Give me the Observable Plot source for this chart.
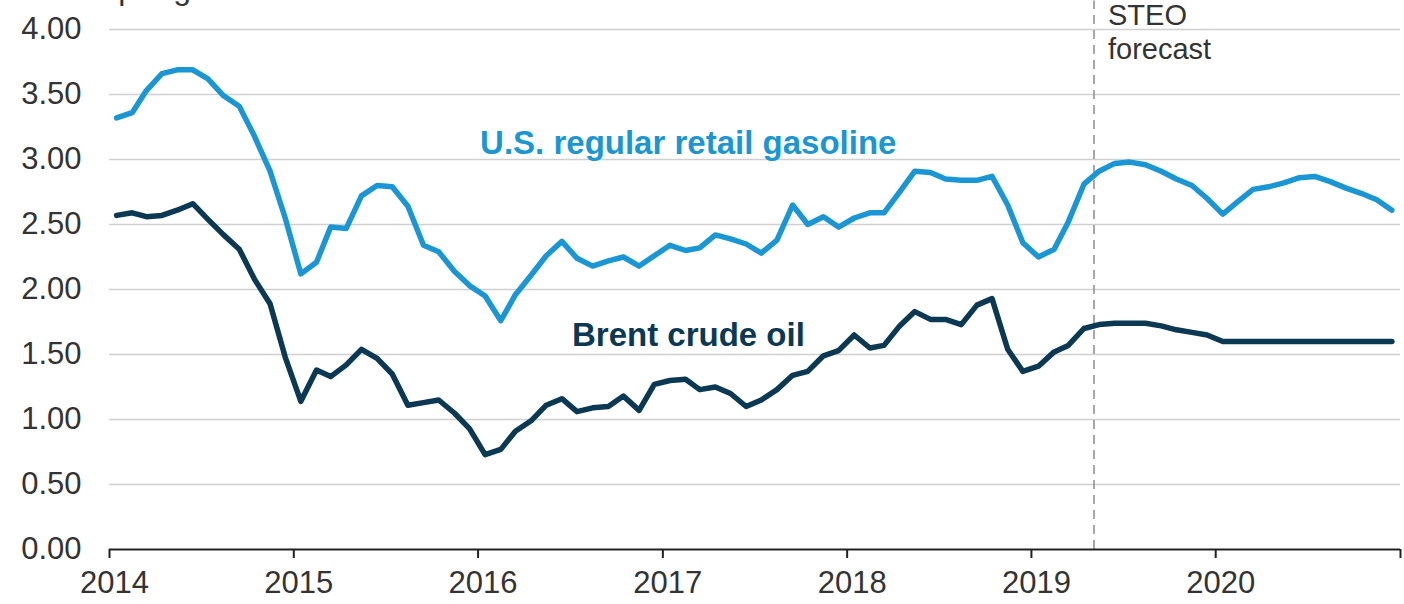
<!DOCTYPE html>
<html><head><meta charset="utf-8">
<script src="https://cdn.jsdelivr.net/npm/d3@7"></script>
<script src="https://cdn.jsdelivr.net/npm/@observablehq/plot@0.6"></script>
<style>
html,body{margin:0;padding:0;background:#fff;overflow:hidden}
#wrap{position:relative;width:1404px;height:604px;overflow:hidden}
#unit{position:absolute;left:15px;top:-28px;font:32px "Liberation Sans",Arial,sans-serif;color:#333;line-height:1;white-space:nowrap}
#chart{position:absolute;left:0;top:0}
</style></head><body>
<div id="wrap"><div id="chart"></div><div id="unit">dollars per gallon</div></div>
<script>
// monthly series, Jan 2014 – Dec 2020 (dollars per gallon)
const startYear = 2014;
const gasoline = [
  3.32, 3.36, 3.53, 3.66, 3.69, 3.69, 3.62, 3.49, 3.41, 3.18, 2.91, 2.55,
  2.12, 2.21, 2.48, 2.47, 2.72, 2.80, 2.79, 2.64, 2.34, 2.29, 2.14, 2.03,
  1.95, 1.76, 1.96, 2.11, 2.26, 2.37, 2.24, 2.18, 2.22, 2.25, 2.18, 2.26,
  2.34, 2.30, 2.32, 2.42, 2.39, 2.35, 2.28, 2.38, 2.65, 2.50, 2.56, 2.48,
  2.55, 2.59, 2.59, 2.75, 2.91, 2.90, 2.85, 2.84, 2.84, 2.87, 2.65, 2.36,
  2.25, 2.31, 2.52, 2.81, 2.91, 2.97, 2.98, 2.96, 2.91, 2.85, 2.80, 2.70,
  2.58, 2.68, 2.77, 2.79, 2.82, 2.86, 2.87, 2.83, 2.78, 2.74, 2.69, 2.61
];
const brent = [
  2.57, 2.59, 2.56, 2.57, 2.61, 2.66, 2.54, 2.42, 2.31, 2.08, 1.89, 1.48,
  1.14, 1.38, 1.33, 1.42, 1.54, 1.47, 1.35, 1.11, 1.13, 1.15, 1.05, 0.93,
  0.73, 0.77, 0.91, 0.99, 1.11, 1.16, 1.06, 1.09, 1.10, 1.18, 1.07, 1.27,
  1.30, 1.31, 1.23, 1.25, 1.20, 1.10, 1.15, 1.23, 1.34, 1.37, 1.49, 1.53,
  1.65, 1.55, 1.57, 1.72, 1.83, 1.77, 1.77, 1.73, 1.88, 1.93, 1.54, 1.37,
  1.41, 1.52, 1.57, 1.70, 1.73, 1.74, 1.74, 1.74, 1.72, 1.69, 1.67, 1.65,
  1.60, 1.60, 1.60, 1.60, 1.60, 1.60, 1.60, 1.60, 1.60, 1.60, 1.60, 1.60
];
const yTicks = [0, 0.5, 1, 1.5, 2, 2.5, 3, 3.5, 4];
const xTickYears = [2014, 2015, 2016, 2017, 2018, 2019, 2020, 2021];
const forecastStart = new Date(Date.UTC(2019, 4, 1));
const seriesNames = ["U.S. regular retail gasoline", "Brent crude oil"];
const seriesColors = ["#1a96d4", "#0b3954"];

const monthDate = i => new Date(Date.UTC(startYear, i, 15));
const gasRows = gasoline.map((v, i) => ({date: monthDate(i), value: v}));
const brentRows = brent.map((v, i) => ({date: monthDate(i), value: v}));
const xTicks = xTickYears.map(y => new Date(Date.UTC(y, 0, 1)));
const yearLabel = d => d.getUTCFullYear() === 2021 ? "" : String(d.getUTCFullYear());

const chart = Plot.plot({
  width: 1404,
  height: 604,
  marginTop: 29,
  marginBottom: 55,
  marginLeft: 109,
  marginRight: 4,
  style: {fontFamily: "'Liberation Sans', Arial, sans-serif", fontSize: "31px", color: "#333", background: "white"},
  x: {type: "utc", domain: [xTicks[0], xTicks[xTicks.length - 1]]},
  y: {domain: [0, 4]},
  marks: [
    Plot.gridY(yTicks.slice(1), {stroke: "#d0d0d0", strokeOpacity: 1, strokeWidth: 1.5}),
    Plot.axisY(yTicks, {tickSize: 0, tickPadding: 28, tickFormat: d => d.toFixed(2), fontSize: 31, fill: "#333", label: null}),
    Plot.ruleX([forecastStart], {y1: 0, y2: 4.22, stroke: "#8c8c8c", strokeWidth: 1.5, strokeDasharray: "9,6", dx: 2}),
    Plot.line(gasRows, {x: "date", y: "value", stroke: seriesColors[0], strokeWidth: 5.5, strokeLinejoin: "round", strokeLinecap: "round"}),
    Plot.line(brentRows, {x: "date", y: "value", stroke: seriesColors[1], strokeWidth: 5.5, strokeLinejoin: "round", strokeLinecap: "round"}),
    Plot.ruleY([0], {stroke: "#222", strokeWidth: 2}),
    Plot.axisX(xTicks, {tickSize: 9, stroke: "#222", strokeWidth: 2, tickFormat: () => "", label: null}),
    Plot.axisX(xTicks, {tickSize: 0, tickPadding: 21, fill: "#333", fontSize: 31, dx: 5, tickFormat: yearLabel, label: null}),
    Plot.text([seriesNames[0]], {x: new Date(Date.UTC(2016, 0, 5)), y: 3.12, text: d => d, textAnchor: "start", fill: seriesColors[0], fontWeight: "bold", fontSize: 33}),
    Plot.text([seriesNames[1]], {x: new Date(Date.UTC(2016, 6, 5)), y: 1.65, text: d => d, textAnchor: "start", fill: seriesColors[1], fontWeight: "bold", fontSize: 33}),
    Plot.text(["STEO\nforecast"], {x: forecastStart, y: 3.985, text: d => d, textAnchor: "start", dx: 16, lineHeight: 1.15, fill: "#333", fontSize: 29})
  ]
});
document.getElementById("chart").appendChild(chart);
</script>
</body></html>
